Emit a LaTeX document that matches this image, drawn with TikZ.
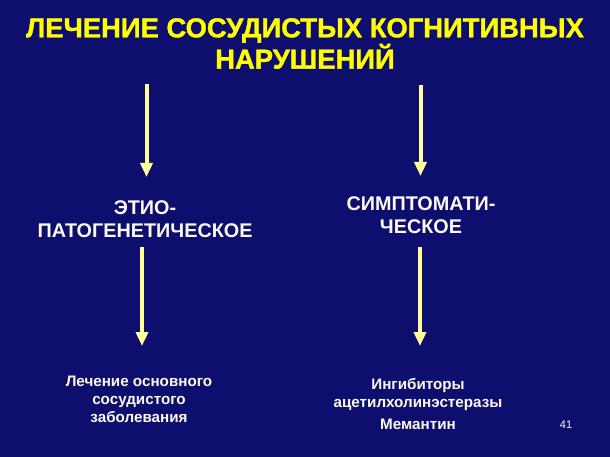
\documentclass[tikz,border=0pt]{standalone}
\usepackage{fontspec}
\setmainfont{Liberation Sans}
\newfontfamily\titlefont[FakeBold=1.2]{Liberation Sans Bold}
\usetikzlibrary{arrows.meta}
\definecolor{bg}{RGB}{14,14,110}
\definecolor{arr}{RGB}{255,255,153}
\definecolor{ttl}{RGB}{255,255,0}
\definecolor{txt}{RGB}{250,250,240}
\begin{document}
\begin{tikzpicture}[x=1pt,y=-1pt,
  arrowline/.style={draw=arr, line width=4pt, -{Triangle[width=12pt,length=14pt]}},
  titletext/.style={text=ttl, font=\titlefont\fontsize{27.4}{29}\selectfont, align=center, inner sep=0pt, anchor=north},
  headtext/.style={text=txt, font=\bfseries\fontsize{19.8}{23}\selectfont, align=center, inner sep=0pt, anchor=north},
  bodytext/.style={text=txt, font=\bfseries\fontsize{15.2}{18.2}\selectfont, align=center, inner sep=0pt, anchor=north},
  pagenum/.style={text=txt, font=\fontsize{11}{13}\selectfont, inner sep=0pt, anchor=base}]
\fill[bg] (0,0) rectangle (610,457);
\useasboundingbox (0,0) rectangle (610,457);
\node[titletext] (title) at (305,18) {ЛЕЧЕНИЕ СОСУДИСТЫХ КОГНИТИВНЫХ\\НАРУШЕНИЙ};
\node[headtext] (etio) at (145,200) {ЭТИО-\\ПАТОГЕНЕТИЧЕСКОЕ};
\node[headtext] (simpt) at (421,196) {СИМПТОМАТИ-\\ЧЕСКОЕ};
\node[bodytext] (lech) at (139,375.5) {Лечение основного\\сосудистого\\заболевания};
\node[bodytext] (ingib) at (418,378) {Ингибиторы\\ацетилхолинэстеразы\\[4pt]Мемантин};
\node[pagenum] (num) at (566,428) {41};
\coordinate (a1s) at (146.5,84);
\coordinate (a1e) at (146.5,177);
\coordinate (a2s) at (420.5,85);
\coordinate (a2e) at (420.5,176);
\coordinate (a3s) at (142,247);
\coordinate (a3e) at (142,346);
\coordinate (a4s) at (420,247);
\coordinate (a4e) at (420,346);
\draw[arrowline] (a1s) -- (a1e);
\draw[arrowline] (a2s) -- (a2e);
\draw[arrowline] (a3s) -- (a3e);
\draw[arrowline] (a4s) -- (a4e);
\end{tikzpicture}
\end{document}
